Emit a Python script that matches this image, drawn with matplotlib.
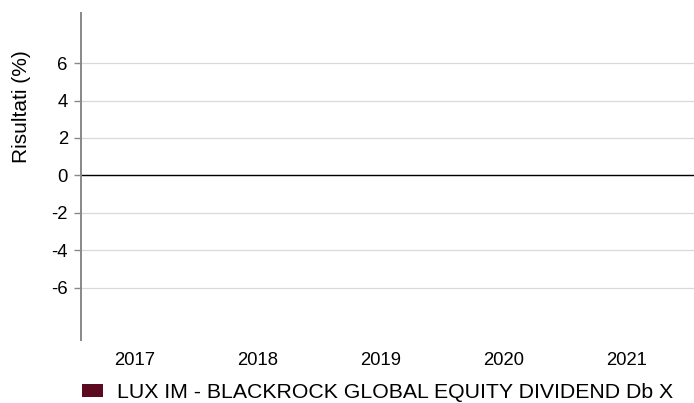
import numpy as np
import matplotlib
matplotlib.use("Agg")
import matplotlib.pyplot as plt

plt.rcParams['font.family'] = ['Liberation Sans', 'DejaVu Sans']

years = ["2017", "2018", "2019", "2020", "2021"]
fund_values = [np.nan, np.nan, np.nan, np.nan, np.nan]
series_name = "LUX IM - BLACKROCK GLOBAL EQUITY DIVIDEND Db X"
yticks = [-6, -4, -2, 0, 2, 4, 6]

W, H = 694, 403
fig = plt.figure(figsize=(W / 100, H / 100), dpi=100)
ax = fig.add_axes([81 / W, 1 - 340 / H, 1 - 81 / W, (340 - 13) / H])

x = np.arange(len(years))
bars = ax.bar(x, fund_values, width=0.5, color="#5c0a1f", label=series_name)

ax.set_xlim(-0.44, 4.55)
ax.set_ylim(-8.8, 8.68)
ax.set_yticks(yticks)
ax.set_yticklabels([str(t) for t in yticks], fontsize=13.3)
ax.set_xticks(x)
ax.set_xticklabels(years, fontsize=13.3)

ax.grid(axis='y', color='#d9d9d9', linewidth=0.9)
ax.set_axisbelow(True)
ax.axhline(0, color='black', linewidth=1.0)

for s in ['top', 'right', 'bottom']:
    ax.spines[s].set_visible(False)
ax.spines['left'].set_color('#888888')
ax.spines['left'].set_linewidth(1.4)
ax.tick_params(axis='y', length=5, width=1, color='#888888', pad=4.5, labelcolor='black')
ax.tick_params(axis='x', length=0, pad=8.5, labelcolor='black')

fig.text(22 / W, 1 - 107 / H, "Risultati (%)", rotation=90, ha='center', va='center', fontsize=15)

leg = fig.legend(handles=[bars], labels=[series_name], loc='center left',
                 bbox_to_anchor=(82 / W, 1 - 392.5 / H), frameon=False, fontsize=15.3,
                 borderpad=0, borderaxespad=0, handlelength=1.0, handleheight=0.63,
                 handletextpad=0.67)

fig.savefig("out.png", dpi=100)
